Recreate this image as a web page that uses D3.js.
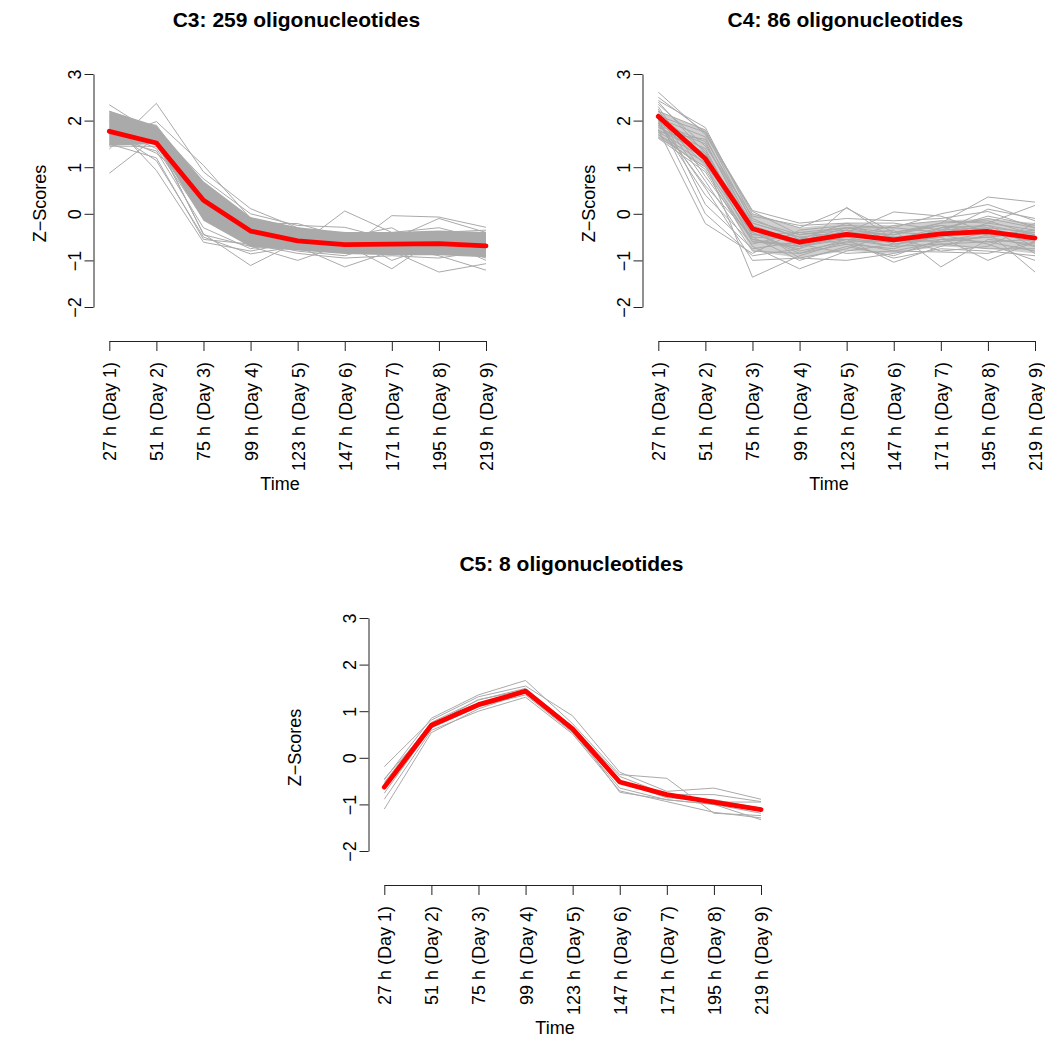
<!DOCTYPE html>
<html><head><meta charset="utf-8">
<script src="https://cdn.jsdelivr.net/npm/d3@7"></script>
<style>
html,body{margin:0;padding:0;background:#fff;}
svg{display:block;font-family:"Liberation Sans",Arial,Helvetica,sans-serif;}
</style></head>
<body>
<svg id="chart" width="1045" height="1039"></svg>
<script>
// ---------- data ----------
const timeLabels = ["27 h (Day 1)","51 h (Day 2)","75 h (Day 3)","99 h (Day 4)","123 h (Day 5)","147 h (Day 6)","171 h (Day 7)","195 h (Day 8)","219 h (Day 9)"];
const yTickValues = [-2,-1,0,1,2,3];
const titles = ["C3: 259 oligonucleotides","C4: 86 oligonucleotides","C5: 8 oligonucleotides"];

// mean profiles (red)
const c3Mean = [1.77,1.52,0.29,-0.37,-0.58,-0.66,-0.65,-0.64,-0.69];
const c4Mean = [2.09,1.18,-0.32,-0.61,-0.44,-0.56,-0.43,-0.38,-0.52];
const c5Mean = [-0.63,0.70,1.14,1.43,0.62,-0.52,-0.79,-0.95,-1.11];

// dense core of the C3 bundle (lower / upper edge)
const c3CoreLow  = [1.46,1.50,-0.15,-0.71,-0.79,-0.86,-0.89,-0.89,-0.93];
const c3CoreHigh = [2.21,1.89,0.70,-0.07,-0.29,-0.39,-0.39,-0.36,-0.39];
// dense core of the C4 bundle
const c4CoreLow  = [1.62,1.00,-0.80,-0.95,-0.80,-0.85,-0.70,-0.75,-0.85];
const c4CoreHigh = [2.20,1.80,0.00,-0.30,-0.20,-0.25,-0.15,-0.10,-0.20];

// individual profiles (grey)
const c3Lines = [
  [2.34,1.70,0.60,-0.20,-0.45,-0.55,-0.60,-0.55,-0.60],
  [0.87,1.65,0.50,-0.30,-0.50,-0.60,-0.70,-0.65,-0.70],
  [1.39,2.37,0.90,0.11,-0.30,-0.50,-0.45,-0.40,-0.50],
  [1.60,1.98,1.04,-0.10,-0.40,-0.40,-0.50,-0.50,-0.45],
  [2.00,0.93,-0.61,-0.80,-0.60,-0.70,-0.75,-0.80,-0.85],
  [1.80,1.14,-0.50,-0.86,-0.70,0.06,-0.40,-0.30,-0.55],
  [1.50,1.55,-0.43,-1.11,-0.60,-0.80,-0.04,-0.07,-0.29],
  [1.70,1.60,-0.45,-0.70,-1.00,-0.65,-1.18,-0.50,-0.60],
  [1.65,1.70,0.20,-0.50,-0.70,-1.14,-0.80,-1.25,-1.07],
  [1.55,1.50,0.10,-0.60,-0.75,-0.60,-0.70,-0.90,-1.21],
  [1.90,1.80,0.75,0.00,-0.25,-0.29,-0.55,-0.10,-0.40],
  [2.10,1.75,0.30,-0.35,-0.55,-0.45,-1.00,-0.65,-0.95],
  [1.85,1.40,-0.10,-0.60,-0.80,-0.90,-0.60,-0.40,-0.35],
  [1.75,1.30,0.45,-0.20,-0.21,-0.50,-0.30,-0.85,-0.80],
  [1.45,1.45,0.00,-0.55,-0.65,-0.75,-0.85,-0.75,-0.90],
  [2.20,1.85,0.65,-0.15,-0.35,-0.60,-0.70,-0.60,-0.75],
  [1.95,1.60,0.40,-0.45,-0.65,-0.70,-0.50,-0.70,-0.65],
  [1.60,1.35,-0.30,-0.75,-0.55,-0.80,-0.75,-0.55,-1.00],
  [2.05,1.90,0.55,-0.25,-0.50,-0.55,-0.65,-0.45,-0.55],
  [1.50,1.20,-0.55,-0.65,-0.85,-0.95,-0.90,-0.95,-0.80]
];
const c4Lines = [
  [2.61,1.70,0.05,-0.45,-0.30,-0.40,-0.20,0.36,0.25],
  [2.43,1.85,-0.10,-0.55,-0.20,-0.60,-0.50,-0.20,0.18],
  [2.20,1.80,0.00,-0.30,0.12,-0.40,-0.45,-0.30,-0.40],
  [2.10,1.75,-0.20,-0.50,-0.40,0.04,-0.05,-0.40,-0.60],
  [2.05,1.65,-0.30,-0.70,-0.50,-0.70,-0.30,-0.10,-0.30],
  [1.95,1.55,-0.40,-0.80,-0.60,-0.80,-0.60,-0.50,-0.70],
  [1.90,1.50,-0.25,-0.60,-0.45,-0.50,-0.40,-0.25,-0.45],
  [1.85,1.40,-0.50,-1.00,-0.70,-0.90,-0.55,-0.60,-0.80],
  [1.80,1.30,-0.35,-0.65,-0.35,-0.45,-0.25,-0.35,-0.55],
  [1.75,1.20,-0.60,-0.70,-0.55,-1.04,-0.70,-0.45,-0.50],
  [1.70,1.10,-1.36,-0.90,-0.60,-0.60,-0.35,-0.30,-0.85],
  [1.65,1.00,-0.45,-0.55,-0.45,-0.35,-1.14,-0.55,-0.65],
  [1.62,0.90,-0.70,-1.18,-0.80,-0.65,-0.50,-1.00,-0.60],
  [2.30,0.80,-0.55,-0.75,0.14,-0.55,-0.60,-0.40,-1.25],
  [2.15,0.70,-0.80,-0.85,-0.65,-0.75,-0.45,-0.65,-1.00],
  [2.00,0.55,-1.00,-0.95,-1.00,-0.85,-0.65,-0.75,-0.75],
  [1.95,0.40,-0.65,-0.40,-0.50,-0.25,-0.15,-0.20,-0.35],
  [2.25,0.20,-0.75,-0.60,-0.30,-0.50,-0.80,-0.70,-0.20],
  [1.80,-0.21,-0.85,-0.35,-0.25,-0.30,-0.40,0.10,-0.10],
  [2.05,0.00,-0.90,-0.75,-0.40,-0.45,-0.20,-0.15,-0.45],
  [1.75,1.60,-0.15,-0.45,-0.35,-0.65,-0.55,-0.50,-0.40],
  [2.35,1.45,-0.05,-0.25,-0.20,-0.20,-0.35,-0.05,-0.25],
  [2.12,1.35,-0.40,-0.85,-0.55,-0.70,-0.65,-0.60,-0.55],
  [1.88,1.25,-0.20,-0.50,-0.65,-0.95,-0.75,-0.80,-0.90],
  [2.20,1.15,-0.55,-0.70,-0.40,-0.55,-0.30,-0.25,-0.70],
  [2.00,1.05,-0.30,-0.95,-0.75,-0.40,-0.25,-0.45,-0.35],
  [1.70,0.95,-0.60,-0.65,-0.85,-0.80,-0.82,-0.85,-0.60],
  [2.40,1.30,-0.45,-0.40,-0.30,-0.30,0.00,0.20,-0.15],
  [2.50,1.75,0.07,-0.20,-0.10,-0.15,-0.10,0.05,-0.30],
  [1.95,0.60,-0.50,-0.55,-0.55,-0.60,-0.45,-0.35,-0.50]
];
const c5Lines = [
  [-0.19,0.81,1.31,1.54,0.90,-0.31,-0.72,-0.65,-0.89],
  [-0.47,0.85,1.35,1.66,0.73,-0.36,-0.44,-1.19,-1.24],
  [-0.53,0.76,1.24,1.49,0.67,-0.40,-0.79,-0.79,-0.94],
  [-0.65,0.71,1.17,1.42,0.60,-0.51,-0.86,-0.90,-1.08],
  [-0.76,0.64,1.10,1.35,0.54,-0.65,-0.90,-1.00,-1.19],
  [-0.89,0.59,1.00,1.30,0.51,-0.71,-0.94,-1.17,-1.29],
  [-1.10,0.54,1.05,1.40,0.62,-0.74,-0.90,-1.00,-1.33],
  [-0.45,0.70,1.25,1.45,0.55,-0.55,-0.80,-0.95,-0.95]
];

// ---------- layout ----------
const svg = d3.select("#chart");
const GREY = "#aaaaaa";
const panels = [
  {dx:0,   dy:0,   title:titles[0], lines:c3Lines, mean:c3Mean, low:c3CoreLow, high:c3CoreHigh, coreOpacity:1,    ylabX:46},
  {dx:549, dy:0,   title:titles[1], lines:c4Lines, mean:c4Mean, low:c4CoreLow, high:c4CoreHigh, coreOpacity:0.55, ylabX:46},
  {dx:275, dy:544, title:titles[2], lines:c5Lines, mean:c5Mean, low:null, high:null, coreOpacity:0,               ylabX:25.5}
];

const x = d3.scaleLinear().domain([0, timeLabels.length-1]).range([109.3, 486]);
const y = d3.scaleLinear().domain([-2, 3]).range([307, 74]);
const yAxisX = 93.5, xAxisY = 341;
const line = d3.line().x((d,i)=>x(i)).y(d=>y(d));
const area = d3.area().x((d,i)=>x(i)).y0(d=>y(d[0])).y1(d=>y(d[1]));
const FS = 18;

panels.forEach(p => {
  const g = svg.append("g").attr("transform", `translate(${p.dx},${p.dy})`);

  if (p.low) {
    g.append("path")
      .datum(p.low.map((v,i)=>[v,p.high[i]]))
      .attr("d", area)
      .attr("fill", GREY).attr("fill-opacity", p.coreOpacity).attr("stroke","none");
  }
  g.selectAll("path.grey").data(p.lines).join("path")
    .attr("class","grey")
    .attr("d", line)
    .attr("fill","none").attr("stroke", GREY).attr("stroke-width", 1);

  g.append("path").datum(p.mean)
    .attr("d", line)
    .attr("fill","none").attr("stroke","#ff0000").attr("stroke-width", 4.8)
    .attr("stroke-linejoin","round").attr("stroke-linecap","round");

  // y axis
  const ya = g.append("g").attr("transform", `translate(${yAxisX},0)`)
    .call(d3.axisLeft(y).tickValues(yTickValues).tickSize(9).tickSizeOuter(0)
      .tickFormat(d => d < 0 ? "\u2212" + Math.abs(d) : String(d)));
  ya.select(".domain").attr("stroke","#222");
  ya.selectAll(".tick line").attr("stroke","#222");
  ya.selectAll(".tick text")
    .attr("x", null).attr("dy", null)
    .attr("transform", "translate(-12.5,0) rotate(-90)")
    .attr("text-anchor","middle")
    .attr("font-size", FS).attr("fill","#000")
    .attr("font-family", "Liberation Sans, Arial, sans-serif");

  // x axis
  const xa = g.append("g").attr("transform", `translate(0,${xAxisY})`)
    .call(d3.axisBottom(x).tickValues(d3.range(timeLabels.length)).tickSize(10).tickSizeOuter(0)
      .tickFormat(i => timeLabels[i]));
  xa.select(".domain").attr("stroke","#222");
  xa.selectAll(".tick line").attr("stroke","#222");
  xa.selectAll(".tick text")
    .attr("y", null).attr("dy", null)
    .attr("transform", "translate(6.5,21) rotate(-90)")
    .attr("text-anchor","end")
    .attr("font-size", FS).attr("fill","#000")
    .attr("font-family", "Liberation Sans, Arial, sans-serif");

  // labels
  g.append("text").attr("x", 296.4).attr("y", 27.3)
    .attr("text-anchor","middle").attr("font-weight","bold").attr("font-size", 21)
    .text(p.title);
  g.append("text").attr("x", 280).attr("y", 490)
    .attr("text-anchor","middle").attr("font-size", FS)
    .text("Time");
  g.append("text").attr("transform",`translate(${p.ylabX},203.5) rotate(-90)`)
    .attr("text-anchor","middle").attr("font-size", FS)
    .text("Z\u2212Scores");
});
</script>
</body></html>
